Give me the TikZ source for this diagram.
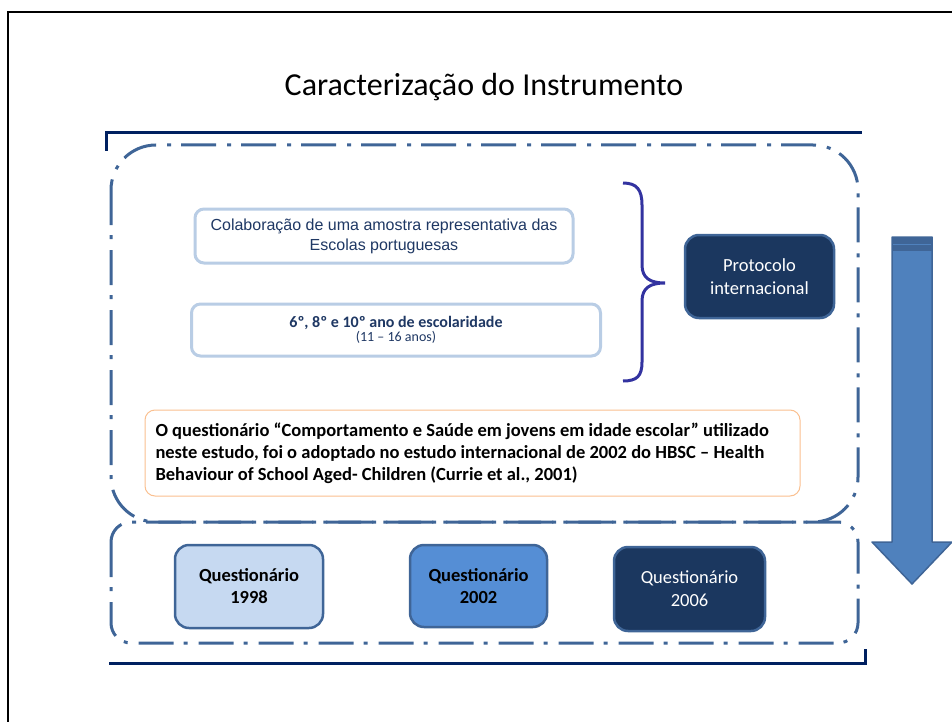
\documentclass[tikz,border=0pt]{standalone}
\usepackage{fontspec}
\setmainfont{Carlito}
\newfontfamily\arialfont{Liberation Sans}
\usetikzlibrary{positioning}

\definecolor{steelblue}{HTML}{3F6597}
\definecolor{navyline}{HTML}{002060}
\definecolor{lightborder}{HTML}{B9CDE5}
\definecolor{navytext}{HTML}{1F3864}
\definecolor{orangeline}{HTML}{FAC090}
\definecolor{paleblue}{HTML}{C6D9F1}
\definecolor{midblue}{HTML}{558ED5}
\definecolor{darkblue}{HTML}{1B375F}
\definecolor{arrowfill}{HTML}{4F81BD}
\definecolor{bracecol}{HTML}{3333A0}

\tikzset{
  frameline/.style={line width=2.5pt, black},
  bracketline/.style={line width=3pt, navyline},
  dashbox/.style={line width=3pt, steelblue, dash pattern=on 35pt off 10pt on 4pt off 11pt, rounded corners=#1},
  lightbox/.style={draw=lightborder, line width=3pt, fill=white, rounded corners=9pt, align=center, text=navytext},
  qbox/.style={draw=steelblue, line width=2.5pt, rounded corners=14pt, align=center, font=\fontsize{18.5}{22}\selectfont\bfseries},
}

\begin{document}
\begin{tikzpicture}[x=1pt, y=-1pt]
  \useasboundingbox (0,0) rectangle (952,722);
  % frame of the slide
  \draw[frameline] (8,740) -- (8,12) -- (970,12);
  \node[font=\fontsize{32}{38}\selectfont] (title) at (484,87) {Caracterização do Instrumento};
  % navy brackets
  \draw[bracketline] (106,151) -- (106,133) -- (862,133);
  \draw[bracketline] (109,663) -- (865,663) -- (865,649);
  % dash-dot groups
  \draw[dashbox=45pt] (111,145) rectangle (858,522);
  \draw[dashbox=20pt] (111,522) rectangle (858,643);
  % upper group
  \node[lightbox, minimum width=378pt, minimum height=54pt, font=\arialfont\fontsize{16}{20}\selectfont] (colab) at (384,236) {Colaboração de uma amostra representativa das\\Escolas portuguesas};
  \node[lightbox, minimum width=409pt, minimum height=52pt] (anos) at (396,330) {{\fontsize{16}{17}\selectfont\bfseries 6º, 8º e 10º ano de escolaridade}\\{\fontsize{14}{17}\selectfont (11 – 16 anos)}};
  \coordinate (tip) at (665,283);
  \draw[bracecol, line width=3pt] (623,183) .. controls (637,183) and (642,190) .. (642,205) -- (642,265) .. controls (642,278) and (650,283) .. (tip) .. controls (650,283) and (642,288) .. (642,301) -- (642,362) .. controls (642,376) and (637,381) .. (623,381);
  \node[draw=steelblue, line width=2.5pt, fill=darkblue, text=white, rounded corners=14pt, minimum width=149pt, minimum height=83pt, align=center, font=\fontsize{18.5}{23}\selectfont] (proto) at (759.5,276.5) {Protocolo\\internacional};
  \node[draw=orangeline, line width=1pt, fill=white, rounded corners=10pt, minimum width=655pt, minimum height=86pt, text width=634pt, align=flush left, font=\fontsize{18.5}{22}\selectfont\bfseries] (hbsc) at (472.5,453) {O questionário “Comportamento e Saúde em jovens em idade escolar” utilizado\\neste estudo, foi o adoptado no estudo internacional de 2002 do HBSC – Health\\Behaviour of School Aged- Children (Currie et al., 2001)};
  % lower group
  \node[qbox, fill=paleblue, minimum width=148pt, minimum height=83pt] (q98) at (249,586.5) {Questionário\\1998};
  \node[qbox, fill=midblue, minimum width=137pt, minimum height=82pt] (q02) at (478.5,586) {Questionário\\2002};
  \node[qbox, fill=darkblue, text=white, font=\fontsize{18.5}{23}\selectfont, minimum width=151pt, minimum height=84pt] (q06) at (689.5,589) {Questionário\\2006};
  % time arrow
  \draw[steelblue, fill=arrowfill, line width=1.5pt, line join=round] (892,237) -- (932,237) -- (932,542) -- (952,542) -- (912,584) -- (872,542) -- (892,542) -- cycle;
  \fill[steelblue] (892,237) rectangle (932,251);
  \draw[arrowfill, line width=1pt] (893,244) -- (931,244);
\end{tikzpicture}
\end{document}
